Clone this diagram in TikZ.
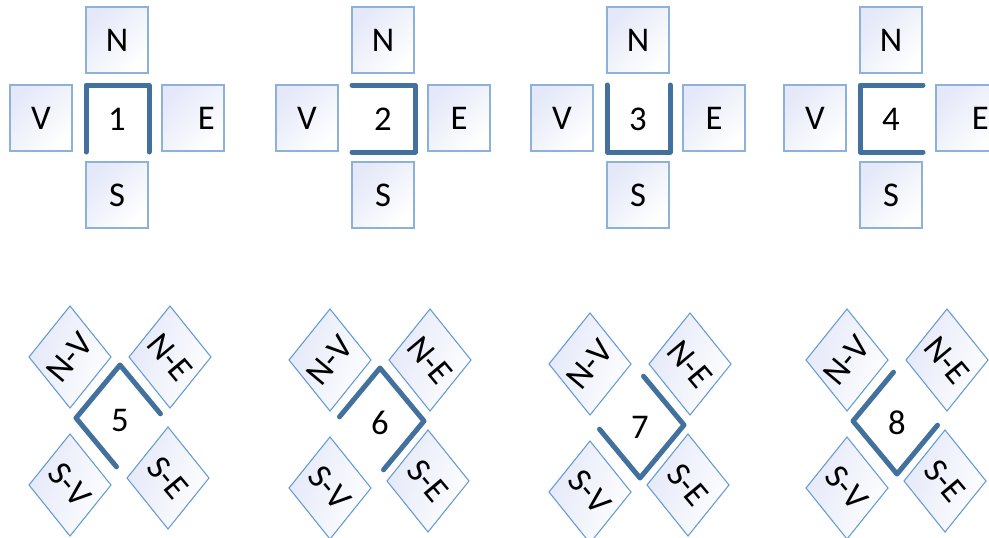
\documentclass[tikz,border=0pt]{standalone}
\usepackage{fontspec}
\setmainfont{Carlito}
\definecolor{boxline}{RGB}{140,178,220}
\definecolor{dialine}{RGB}{100,155,210}
\definecolor{lav}{RGB}{228,232,248}
\definecolor{brkcol}{RGB}{66,113,158}
\tikzset{
  lbl/.style={font=\fontsize{26}{30}\selectfont, text=black, inner sep=0pt},
  sq/.style={lbl, draw=boxline, line width=1.1pt, minimum width=46.5pt, minimum height=49.5pt,
    top color=lav, middle color=white, bottom color=white, shading angle=45},
  dia/.style={draw=dialine, line width=0.8pt,
    top color=lav, middle color=white, bottom color=white, shading angle=70},
  brk/.style={draw=brkcol, line width=3.75pt, line cap=round, line join=round}
}
\newcommand\topgrp[5]{%
  \begin{scope}[shift={(#2,118)}]
    \node[sq] (#1n) at (0,-78) {N};
    \node[sq] (#1s) at (0,77) {S};
    \node[sq] (#1v) at (-76,0) {V};
    \node[sq] (#1e) at (76,0) {#5};
    \node[lbl] (#1c) at (0,1) {#3};
    \draw[brk] #4;
  \end{scope}}
\newcommand\botgrp[5]{%
  \begin{scope}[shift={(#2,#3)}]
    \path[dia] (-91,-61) -- (-50,-112) -- (-9,-61) -- (-50,-10) -- cycle;
    \node[lbl, rotate=50] (#1nv) at (-50,-61) {N-V};
    \path[dia] (9,-61) -- (50,-112) -- (91,-61) -- (50,-10) -- cycle;
    \node[lbl, rotate=-50] (#1ne) at (50,-61) {N-E};
    \path[dia] (-91,67) -- (-50,16) -- (-9,67) -- (-50,118) -- cycle;
    \node[lbl, rotate=-50] (#1sv) at (-50,67) {S-V};
    \path[dia] (7,60) -- (48,9) -- (89,60) -- (48,111) -- cycle;
    \node[lbl, rotate=-50] (#1se) at (48,60) {S-E};
    \node[lbl] (#1c) at (0,2) {#4};
    \draw[brk] #5;
  \end{scope}}
\begin{document}
\begin{tikzpicture}[x=0.75pt,y=-0.75pt]
\useasboundingbox (0,0) rectangle (989,537);
\clip (0,0) rectangle (989,537);
\fill[white] (0,0) rectangle (989,537);
\topgrp{g1}{117}{1}{(-31,34) -- (-31,-33) -- (32,-33) -- (32,34)}{\hspace*{20pt}E}
\topgrp{g2}{383}{2}{(-31,-33) -- (32,-33) -- (32,34) -- (-31,34)}{E}
\topgrp{g3}{638}{3}{(-31,-33) -- (-31,34) -- (32,34) -- (32,-33)}{E}
\topgrp{g4}{891}{4}{(32,-33) -- (-31,-33) -- (-31,34) -- (32,34)}{\hspace*{20pt}E}
\botgrp{g5}{120}{418}{5}{(40.5,-4.2) -- (0,-53) -- (-44,0) -- (-3.5,48.8)}
\botgrp{g6}{380}{421}{6}{(-40.5,-4.2) -- (0,-53) -- (44,0) -- (3.5,48.8)}
\botgrp{g7}{640}{425}{7}{(3.5,-48.8) -- (44,0) -- (0,53) -- (-40.5,4.2)}
\botgrp{g8}{897}{421}{8}{(-3.5,-48.8) -- (-44,0) -- (0,53) -- (40.5,4.2)}
\end{tikzpicture}
\end{document}
